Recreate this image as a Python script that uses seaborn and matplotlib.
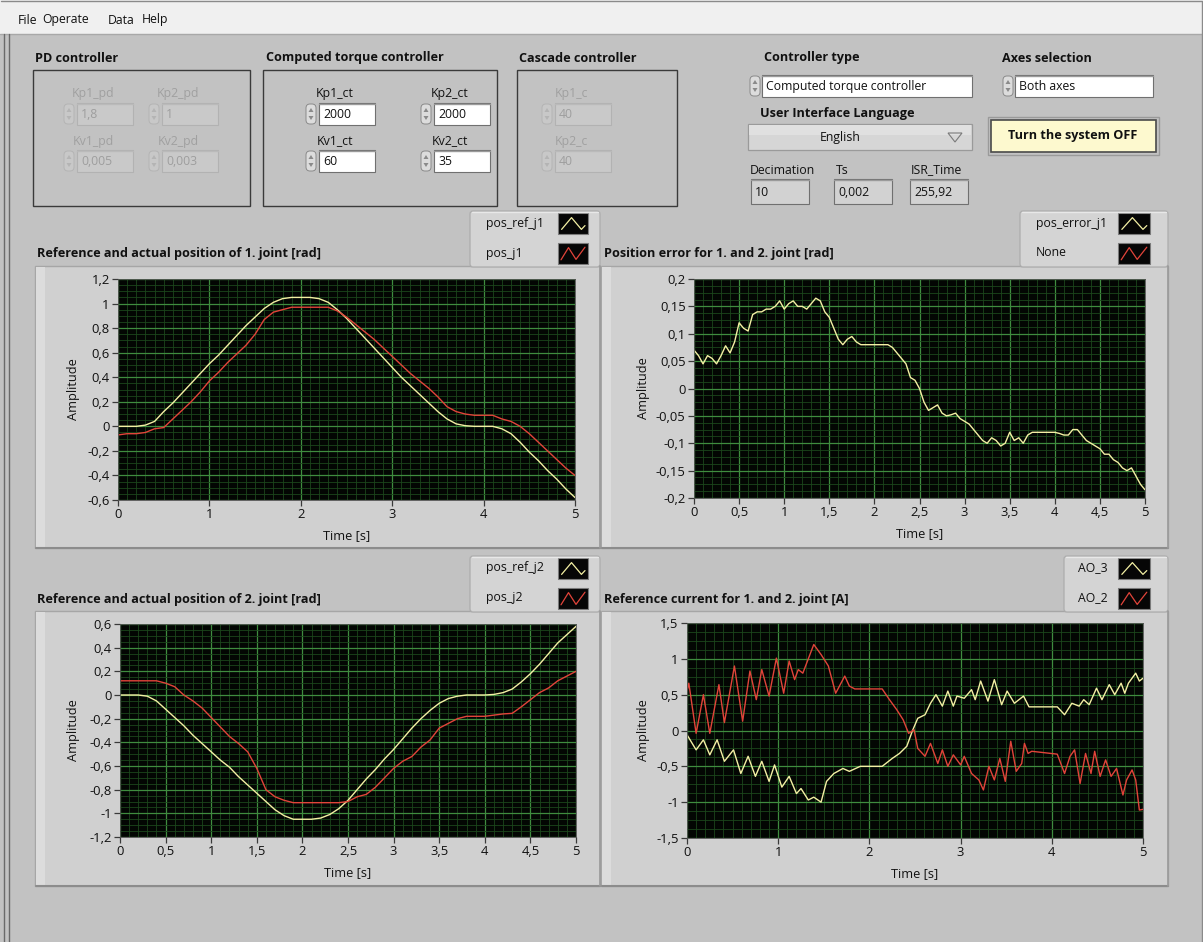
import numpy as np
import pandas as pd
import matplotlib
matplotlib.use('Agg')
import matplotlib.pyplot as plt
import seaborn as sns
from matplotlib.patches import Rectangle, FancyBboxPatch, Polygon
from matplotlib.ticker import MultipleLocator, FuncFormatter

# ---- values ----
t_grid = np.round(np.arange(0, 5.001, 0.1), 2)
t_fine = np.round(np.arange(0, 5.001, 0.05), 2)

pos_ref_j1 = [0, 0, 0, 0.01, 0.04, 0.12, 0.19, 0.27, 0.35, 0.43,
              0.51, 0.58, 0.66, 0.74, 0.82, 0.89, 0.96, 1.01, 1.04, 1.05,
              1.05, 1.05, 1.04, 1.01, 0.95, 0.88, 0.80, 0.72, 0.64, 0.56,
              0.48, 0.40, 0.33, 0.26, 0.19, 0.12, 0.06, 0.02, 0.005, 0,
              0, 0, -0.02, -0.06, -0.13, -0.21, -0.28, -0.36, -0.43, -0.51, -0.58]
pos_j1 = [-0.07, -0.06, -0.06, -0.05, -0.02, -0.01, 0.06, 0.13, 0.2, 0.28,
          0.37, 0.44, 0.52, 0.59, 0.66, 0.75, 0.87, 0.93, 0.95, 0.97,
          0.97, 0.97, 0.97, 0.97, 0.94, 0.89, 0.83, 0.77, 0.71, 0.64,
          0.57, 0.50, 0.43, 0.37, 0.31, 0.24, 0.16, 0.12, 0.1, 0.09,
          0.09, 0.09, 0.06, 0.04, 0.0, -0.06, -0.13, -0.2, -0.27, -0.34, -0.4]

pos_error_j1 = [0.07, 0.06, 0.045, 0.06, 0.055, 0.045, 0.06, 0.078, 0.065, 0.085,
                0.12, 0.11, 0.105, 0.135, 0.14, 0.14, 0.145, 0.145, 0.15, 0.16,
                0.145, 0.155, 0.16, 0.15, 0.15, 0.145, 0.155, 0.165, 0.16, 0.14,
                0.13, 0.11, 0.09, 0.08, 0.09, 0.095, 0.085, 0.08, 0.08, 0.08,
                0.08, 0.08, 0.08, 0.08, 0.075, 0.065, 0.055, 0.045, 0.02, 0.015,
                0.0, -0.025, -0.04, -0.035, -0.03, -0.045, -0.05, -0.048, -0.045, -0.055,
                -0.06, -0.065, -0.075, -0.085, -0.095, -0.1, -0.09, -0.095, -0.105, -0.1,
                -0.08, -0.095, -0.09, -0.1, -0.085, -0.08, -0.08, -0.08, -0.08, -0.08,
                -0.08, -0.082, -0.085, -0.085, -0.075, -0.075, -0.085, -0.095, -0.1, -0.105,
                -0.11, -0.12, -0.12, -0.13, -0.135, -0.145, -0.15, -0.145, -0.16, -0.175,
                -0.185]

pos_ref_j2 = [0, 0, 0, -0.01, -0.05, -0.12, -0.19, -0.26, -0.34, -0.41,
              -0.48, -0.55, -0.61, -0.69, -0.76, -0.83, -0.9, -0.97, -1.02, -1.05,
              -1.05, -1.05, -1.04, -1.01, -0.96, -0.89, -0.8, -0.71, -0.63, -0.54,
              -0.46, -0.37, -0.28, -0.2, -0.13, -0.07, -0.03, -0.01, 0, 0,
              0, 0.005, 0.02, 0.05, 0.11, 0.18, 0.26, 0.35, 0.44, 0.51, 0.58]
pos_j2 = [0.12, 0.12, 0.12, 0.12, 0.12, 0.1, 0.07, 0.0, -0.05, -0.11,
          -0.19, -0.27, -0.35, -0.41, -0.48, -0.62, -0.8, -0.86, -0.89, -0.91,
          -0.91, -0.91, -0.91, -0.91, -0.91, -0.9, -0.86, -0.84, -0.78, -0.7,
          -0.62, -0.56, -0.52, -0.44, -0.38, -0.28, -0.24, -0.2, -0.18, -0.18,
          -0.18, -0.17, -0.16, -0.155, -0.1, -0.04, 0.02, 0.06, 0.12, 0.16, 0.2]

t_ao3 = [0, 0.1, 0.18, 0.25, 0.33, 0.41, 0.51, 0.59, 0.67, 0.75,
         0.82, 0.9, 0.96, 1.04, 1.12, 1.2, 1.25, 1.33, 1.39, 1.47,
         1.53, 1.61, 1.71, 1.78, 1.9, 2.14, 2.18, 2.25, 2.33, 2.41,
         2.47, 2.53, 2.61, 2.67, 2.73, 2.8, 2.86, 2.92, 2.96, 3.04,
         3.12, 3.16, 3.22, 3.3, 3.37, 3.45, 3.51, 3.59, 3.69, 3.75,
         4.06, 4.14, 4.22, 4.3, 4.35, 4.41, 4.49, 4.55, 4.63, 4.69,
         4.76, 4.8, 4.84, 4.92, 4.96, 5.0]
ao_3 = [-0.06, -0.27, -0.13, -0.34, -0.13, -0.43, -0.27, -0.6, -0.36, -0.64,
        -0.43, -0.71, -0.48, -0.79, -0.64, -0.88, -0.81, -0.97, -0.93, -1.0,
        -0.71, -0.6, -0.53, -0.57, -0.5, -0.5, -0.46, -0.39, -0.32, -0.22,
        -0.01, 0.17, 0.22, 0.38, 0.5, 0.34, 0.55, 0.34, 0.48, 0.45,
        0.57, 0.43, 0.69, 0.41, 0.71, 0.36, 0.55, 0.38, 0.48, 0.33,
        0.33, 0.22, 0.38, 0.34, 0.43, 0.36, 0.59, 0.43, 0.64, 0.5,
        0.66, 0.52, 0.66, 0.8, 0.69, 0.73]

t_ao2 = [0, 0.02, 0.1, 0.18, 0.25, 0.35, 0.41, 0.52, 0.61, 0.69,
         0.76, 0.82, 0.9, 0.98, 1.06, 1.12, 1.18, 1.22, 1.27, 1.33,
         1.39, 1.47, 1.55, 1.63, 1.73, 1.78, 1.84, 2.14, 2.22, 2.3,
         2.37, 2.43, 2.49, 2.53, 2.61, 2.67, 2.75, 2.8, 2.86, 2.92,
         3.0, 3.04, 3.12, 3.2, 3.25, 3.31, 3.37, 3.43, 3.49, 3.55,
         3.61, 3.67, 3.7, 3.74, 3.78, 4.06, 4.14, 4.2, 4.25, 4.31,
         4.37, 4.43, 4.47, 4.53, 4.59, 4.65, 4.71, 4.78, 4.82, 4.88,
         4.92, 4.96, 5.0]
ao_2 = [0.55, 0.66, -0.04, 0.5, -0.04, 0.64, 0.11, 0.9, 0.13, 0.83,
        0.43, 0.85, 0.48, 1.01, 0.52, 0.97, 0.71, 0.85, 0.8, 1.0,
        1.2, 1.06, 0.9, 0.52, 0.76, 0.62, 0.58, 0.58, 0.43, 0.29,
        0.15, -0.04, 0.01, -0.25, -0.36, -0.18, -0.46, -0.27, -0.5, -0.34,
        -0.48, -0.36, -0.6, -0.69, -0.83, -0.5, -0.69, -0.39, -0.71, -0.15,
        -0.57, -0.46, -0.18, -0.32, -0.29, -0.33, -0.6, -0.36, -0.27, -0.74,
        -0.32, -0.6, -0.29, -0.64, -0.41, -0.64, -0.53, -0.9, -0.69, -0.55,
        -0.69, -1.11, -1.1]

YEL = '#f4f0a4'
RED = '#e2443a'
BG = '#c2c2c2'
FS = 8.8
FSB = 9.1

sns.set_theme(style='ticks')
plt.rcParams['font.family'] = ['Open Sans', 'DejaVu Sans']

W, H = 1203, 942
fig = plt.figure(figsize=(W / 100, H / 100), dpi=100, facecolor=BG)

# pixel-coordinate layer for the panel widgets
ui = fig.add_axes([0, 0, 1, 1])
ui.set_xlim(0, W)
ui.set_ylim(H, 0)
ui.axis('off')


def txt(x, y, s, bold=False, color='#111111', ha='left', size=None):
    if size is None:
        size = FSB if bold else FS
    ui.text(x, y, s, ha=ha, va='center', fontsize=size, color=color,
            fontweight='bold' if bold else 'normal')


def spinner(x0, y0, y1, on=True):
    ec = '#8a8a8a' if on else '#b4b4b4'
    ui.add_patch(FancyBboxPatch((x0, y0 + 1), 10, y1 - y0 - 2,
                                boxstyle='round,pad=0,rounding_size=4',
                                fc='#dcdcdc' if on else '#c8c8c8', ec=ec, lw=0.7))
    xm, ym = x0 + 5, (y0 + y1) / 2
    ui.add_patch(Polygon([(xm - 2.5, ym - 2), (xm + 2.5, ym - 2), (xm, ym - 6)], fc=ec, ec='none'))
    ui.add_patch(Polygon([(xm - 2.5, ym + 2), (xm + 2.5, ym + 2), (xm, ym + 6)], fc=ec, ec='none'))


def field(x0, y0, x1, y1, s, on=True, fc=None):
    if fc is None:
        fc = 'white' if on else '#c9c9c9'
    ui.add_patch(Rectangle((x0, y0), x1 - x0, y1 - y0, fc=fc,
                           ec='#707070' if on else '#b2b2b2', lw=0.8))
    ui.plot([x0, x1], [y0 + 1, y0 + 1], color='#9a9a9a' if on else '#bababa', lw=1)
    txt(x0 + 4, (y0 + y1) / 2 + 0.5, s, color='#111111' if on else '#9e9e9e')


def numeric(label, xc, y, s, on=True):
    txt(xc, y, label, ha='center', color='#111111' if on else '#a0a0a0')
    spinner(xc - 29, y + 9, y + 31, on)
    field(xc - 16, y + 9, xc + 40, y + 31, s, on)


# window chrome
ui.add_patch(Rectangle((0, 0), W, 34, fc='#f0f0f0', ec='none'))
ui.plot([0, W], [34, 34], color='#a8a8a8', lw=1)
ui.plot([1, W - 1, W - 1], [1, 1, H], color='#8a8a8a', lw=1)
ui.plot([4, 4], [34, H], color='#6a6a6a', lw=1)
ui.plot([9, 9], [34, H], color='#6a6a6a', lw=1)
for x, s in [(18, 'File'), (42, 'Operate'), (108, 'Data'), (142, 'Help')]:
    txt(x, 20, s, size=8.8)

# controller group boxes
txt(35, 58, 'PD controller', bold=True)
ui.add_patch(Rectangle((33, 70), 217, 136, fc='none', ec='#3a3a3a', lw=1))
numeric('Kp1_pd', 93, 94, '1,8', on=False)
numeric('Kp2_pd', 178, 94, '1', on=False)
numeric('Kv1_pd', 93, 141, '0,005', on=False)
numeric('Kv2_pd', 178, 141, '0,003', on=False)

txt(266, 58, 'Computed torque controller', bold=True)
ui.add_patch(Rectangle((263, 70), 234, 136, fc='none', ec='#3a3a3a', lw=1))
numeric('Kp1_ct', 335, 94, '2000')
numeric('Kp2_ct', 450, 94, '2000')
numeric('Kv1_ct', 335, 141, '60')
numeric('Kv2_ct', 450, 141, '35')

txt(519, 58, 'Cascade controller', bold=True)
ui.add_patch(Rectangle((517, 70), 160, 136, fc='none', ec='#3a3a3a', lw=1))
numeric('Kp1_c', 571, 94, '40', on=False)
numeric('Kp2_c', 571, 141, '40', on=False)

txt(764, 58, 'Controller type', bold=True)
spinner(750, 75, 97)
field(762, 75, 972, 97, 'Computed torque controller')
txt(1002, 58, 'Axes selection', bold=True)
spinner(1003, 75, 97)
field(1015, 75, 1153, 97, 'Both axes')

txt(760, 113, 'User Interface Language', bold=True)
ui.add_patch(Rectangle((748, 124), 224, 26, fc='#d6d6d6', ec='#9a9a9a', lw=0.9))
ui.add_patch(Rectangle((749, 125), 222, 10, fc='#e0e0e0', ec='none'))
txt(840, 137, 'English', ha='center')
ui.add_patch(Polygon([(948, 133), (962, 133), (955, 142)], fc='none', ec='#7a7a7a', lw=0.8))

ui.add_patch(Rectangle((988, 117), 171, 38, fc='none', ec='#9a9a9a', lw=1))
ui.add_patch(Rectangle((991, 120), 165, 32, fc='#fdf9cf', ec='#4a4a4a', lw=1.2))
txt(1073, 136, 'Turn the system OFF', bold=True, ha='center')

for label, lx, x0, s in [('Decimation', 750, 751, '10'), ('Ts', 836, 834, '0,002'),
                         ('ISR_Time', 911, 910, '255,92')]:
    txt(lx, 170, label)
    field(x0, 179, x0 + 58, 204, s, fc='#d2d2d2')


def legend_box(x0, x1, y0, names, colors, tx, sx0, sx1):
    ui.add_patch(FancyBboxPatch((x0, y0), x1 - x0, 56, boxstyle='round,pad=0,rounding_size=3',
                                fc='#d4d4d4', ec='#adadad', lw=0.9))
    ui.plot([x0 + 2, x1 - 2], [y0 + 1, y0 + 1], color='#e8e8e8', lw=1)
    for i, (name, col) in enumerate(zip(names, colors)):
        ya = y0 + 2 + i * 30
        txt(tx, ya + 10, name)
        ui.add_patch(Rectangle((sx0, ya), sx1 - sx0, 21, fc='#060606', ec='#7a7a7a', lw=0.8))
        w = sx1 - sx0
        if i == 0:
            fx, fy = [0.12, 0.45, 0.78, 0.9], [0.78, 0.22, 0.78, 0.6]
        else:
            fx, fy = [0.1, 0.35, 0.6, 0.9], [0.8, 0.22, 0.78, 0.2]
        ui.plot([sx0 + f * w for f in fx], [ya + f * 21 for f in fy], color=col, lw=0.9)


def frame(x0, y0, x1, y1):
    ui.add_patch(Rectangle((x0, y0), x1 - x0, y1 - y0, fc='#d0d0d0', ec='#a6a6a6', lw=1))
    ui.add_patch(Rectangle((x0 + 1, y0 + 1), 9, y1 - y0 - 2, fc='#dcdcdc', ec='none'))
    ui.plot([x0 + 1, x1], [y1, y1], color='#8c8c8c', lw=1.5)
    ui.plot([x1, x1], [y0, y1], color='#9a9a9a', lw=1.2)


def comma(v, pos):
    s = f'{round(v, 4):g}'
    return '0' if s == '-0' else s.replace('.', ',')


def graph(box, series, ylim, xmaj, ymaj, ylab_x):
    x0, y0, x1, y1 = box
    ax = fig.add_axes([x0 / W, 1 - y1 / H, (x1 - x0) / W, (y1 - y0) / H])
    ax.set_facecolor('#030603')
    ax.set_axisbelow(True)
    df = pd.concat([pd.DataFrame({'Time [s]': t, 'Amplitude': v, 'series': name})
                    for name, t, v, c in series], ignore_index=True)
    pal = {name: c for name, t, v, c in series}
    sns.lineplot(data=df, x='Time [s]', y='Amplitude', hue='series', palette=pal,
                 estimator=None, sort=False, legend=False, linewidth=1.0, ax=ax)
    ax.set_xlim(0, 5)
    ax.set_ylim(*ylim)
    ax.xaxis.set_major_locator(MultipleLocator(xmaj))
    ax.xaxis.set_minor_locator(MultipleLocator(0.1))
    ax.yaxis.set_major_locator(MultipleLocator(ymaj))
    ax.yaxis.set_minor_locator(MultipleLocator(ymaj / 4))
    ax.xaxis.set_major_formatter(FuncFormatter(comma))
    ax.yaxis.set_major_formatter(FuncFormatter(comma))
    ax.grid(which='minor', color='#1c461c', lw=0.6)
    ax.grid(which='major', color='#3f8c3f', lw=0.9)
    ax.tick_params(which='major', direction='out', length=4, width=0.9, color='#3a3a3a',
                   labelsize=9.4, labelcolor='#111111', pad=2)
    ax.tick_params(which='minor', length=0)
    for sp in ax.spines.values():
        sp.set_color('#505050')
        sp.set_linewidth(0.6)
    ax.set_xlabel('Time [s]', fontsize=9.2, color='#111111')
    ax.set_ylabel('Amplitude', fontsize=9.2, color='#111111')
    ax.xaxis.label.set_va('center')
    ax.yaxis.label.set_va('center')
    ax.xaxis.set_label_coords((x0 + x1) / 2, y1 + 36, transform=ui.transData)
    ax.yaxis.set_label_coords(ylab_x, (y0 + y1) / 2, transform=ui.transData)
    return ax


# graph 1
txt(37, 254, 'Reference and actual position of 1. joint [rad]', bold=True)
frame(35, 266, 600, 548)
legend_box(470, 600, 211, ['pos_ref_j1', 'pos_j1'], [YEL, RED], 486, 558, 588)
graph((118, 279, 575, 500),
      [('pos_ref_j1', t_grid, pos_ref_j1, YEL), ('pos_j1', t_grid, pos_j1, RED)],
      (-0.6, 1.2), 1, 0.2, 73)

# graph 2
txt(604, 254, 'Position error for 1. and 2. joint [rad]', bold=True)
frame(601, 266, 1168, 548)
legend_box(1020, 1168, 211, ['pos_error_j1', 'None'], [YEL, RED], 1036, 1118, 1150)
graph((694, 279, 1145, 498),
      [('pos_error_j1', t_fine, pos_error_j1, YEL)],
      (-0.2, 0.2), 0.5, 0.05, 643)

# graph 3
txt(37, 600, 'Reference and actual position of 2. joint [rad]', bold=True)
frame(35, 611, 600, 886)
legend_box(470, 600, 556, ['pos_ref_j2', 'pos_j2'], [YEL, RED], 486, 558, 588)
graph((120, 624, 576, 837),
      [('pos_ref_j2', t_grid, pos_ref_j2, YEL), ('pos_j2', t_grid, pos_j2, RED)],
      (-1.2, 0.6), 0.5, 0.2, 73)

# graph 4
txt(604, 600, 'Reference current for 1. and 2. joint [A]', bold=True)
frame(601, 611, 1168, 886)
legend_box(1064, 1168, 556, ['AO_3', 'AO_2'], [YEL, RED], 1078, 1118, 1150)
graph((687, 623, 1143, 838),
      [('AO_3', t_ao3, ao_3, YEL), ('AO_2', t_ao2, ao_2, RED)],
      (-1.5, 1.5), 1, 0.5, 643)

fig.savefig('out.png', dpi=100, facecolor=BG)
